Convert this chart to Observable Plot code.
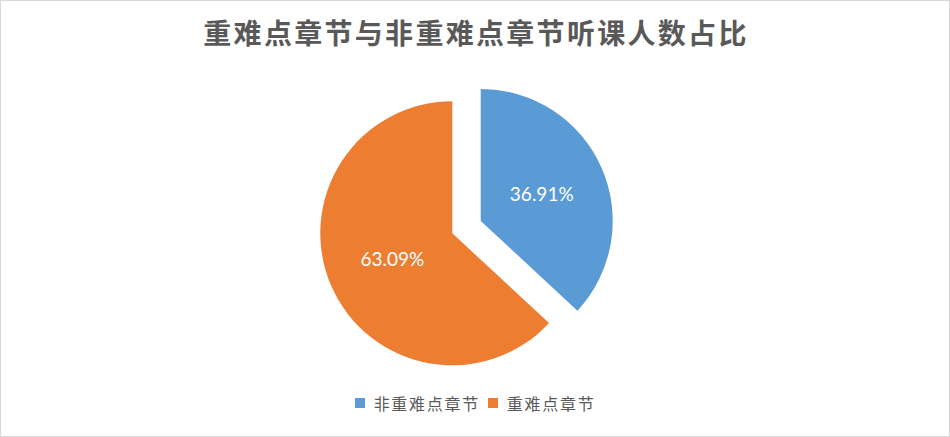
<!DOCTYPE html>
<html>
<head>
<meta charset="utf-8">
<script src="https://cdn.jsdelivr.net/npm/d3@7"></script>
<script src="https://cdn.jsdelivr.net/npm/@observablehq/plot@0.6"></script>
<style>
  html, body { margin: 0; padding: 0; background: #fff; }
  #frame { width: 948px; height: 435px; border: 1px solid #d9d9d9; background: #fff; overflow: hidden; }
  #title { height: 70px; line-height: 63px; text-align: center; font-family: "Noto Sans CJK SC", sans-serif; font-weight: bold; font-size: 28px; letter-spacing: 2.3px; color: #595959; padding-left: 2px; box-sizing: border-box; }
  #chart svg { display: block; }
  #legend { height: 50px; display: flex; justify-content: center; align-items: flex-start; font-family: "Noto Sans CJK SC", sans-serif; font-size: 16px; letter-spacing: 1.7px; color: #595959; line-height: 34px; }
  .item { display: flex; align-items: center; margin: 0 4px; }
  .sw { width: 10px; height: 10px; margin-right: 9px; }
</style>
</head>
<body>
<div id="frame">
  <div id="title"></div>
  <div id="chart"></div>
  <div id="legend"></div>
</div>
<script>
const titleText = "重难点章节与非重难点章节听课人数占比";
const categories = ["非重难点章节", "重难点章节"];
const shares = [36.91, 63.09];
const labels = ["36.91%", "63.09%"];
const colors = ["#5B9BD5", "#ED7D31"];
const exploded = [true, false];

// layout constants
const W = 948, H = 315, R = 132, CX = 451.3, CY = 162.3, EXPLODE = 0.235;

document.getElementById("title").textContent = titleText;

const arcs = d3.pie().sort(null).value(d => d)(shares);
const slices = arcs.map((a, i) => {
  const mid = (a.startAngle + a.endAngle) / 2;
  const e = exploded[i] ? EXPLODE : 0;
  const ox = e * Math.sin(mid), oy = -e * Math.cos(mid);
  return {
    category: categories[i], label: labels[i], color: colors[i],
    startAngle: a.startAngle, endAngle: a.endAngle,
    ox, oy,
    lx: ox + 0.5 * Math.sin(mid), ly: oy - 0.5 * Math.cos(mid)
  };
});

const arcGen = d3.arc().innerRadius(0).outerRadius(R);

const pieMark = (index, scales) => {
  const g = d3.create("svg:g");
  slices.forEach(s => {
    g.append("path")
      .attr("d", arcGen({startAngle: s.startAngle, endAngle: s.endAngle}))
      .attr("transform", `translate(${scales.x(s.ox)},${scales.y(s.oy)})`)
      .attr("fill", s.color);
  });
  return g.node();
};

const plot = Plot.plot({
  width: W, height: H,
  margin: 0,
  x: {domain: [-1, 1], range: [CX - R, CX + R], axis: null},
  y: {domain: [-1, 1], range: [CY - R, CY + R], axis: null},
  style: {background: "transparent"},
  marks: [
    pieMark,
    Plot.text(slices, {x: "lx", y: "ly", text: "label", fill: "white", fontSize: 19, fontFamily: "Lato, 'Open Sans', sans-serif"})
  ]
});
document.getElementById("chart").appendChild(plot);

const legend = document.getElementById("legend");
categories.forEach((c, i) => {
  const item = document.createElement("div");
  item.className = "item";
  const sw = document.createElement("span");
  sw.className = "sw";
  sw.style.background = colors[i];
  const t = document.createElement("span");
  t.textContent = c;
  item.appendChild(sw); item.appendChild(t);
  legend.appendChild(item);
});
</script>
</body>
</html>
